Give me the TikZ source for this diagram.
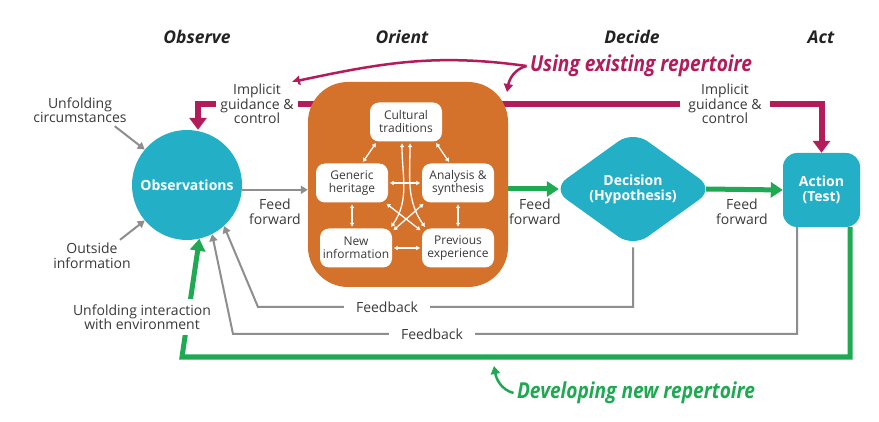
\documentclass[tikz,border=0pt]{standalone}
\usepackage{fontspec}
\setmainfont{Open Sans}
\newfontfamily\condfont[FakeStretch=0.87]{Open Sans}
\usetikzlibrary{arrows.meta,shapes.geometric,backgrounds}

\definecolor{stageteal}{HTML}{23B0C6}
\definecolor{orientorange}{HTML}{D4712A}
\definecolor{guidered}{HTML}{B31B5B}
\definecolor{fwdgreen}{HTML}{1EA952}
\definecolor{feedgray}{HTML}{8E8E8E}
\definecolor{txtgray}{HTML}{3A3A3A}
\definecolor{headgray}{HTML}{222222}

\begin{document}
\begin{tikzpicture}[x=1pt,y=-1pt,
    every node/.style={font=\fontsize{14}{14.5}\selectfont,text=txtgray,align=center},
    heading/.style={font=\fontsize{17.5}{19}\selectfont\bfseries\itshape,text=headgray},
    repertoire/.style={font=\condfont\fontsize{22}{24}\selectfont\bfseries\itshape},
    stage/.style={fill=stageteal,text=white,font=\fontsize{14}{15}\selectfont\bfseries,inner sep=0pt},
    factor/.style={fill=white,rounded corners=9pt,minimum width=72pt,minimum height=39pt,inner sep=1pt,
        font=\fontsize{12}{13}\selectfont},
    gap/.style={fill=white,inner ysep=2pt},
    guide/.style={draw=guidered,line width=6pt,-{Triangle[width=17pt,length=12pt]}},
    guidethin/.style={draw=guidered,line width=2.5pt,-{Triangle[width=9pt,length=8pt]}},
    forward/.style={draw=fwdgreen,line width=5pt,-{Triangle[width=15pt,length=12pt]}},
    forwardthin/.style={draw=fwdgreen,line width=2.5pt,-{Triangle[width=9pt,length=8pt]}},
    feed/.style={draw=feedgray,line width=2pt,-{Triangle[width=8pt,length=7pt]}},
    link/.style={draw=white,line width=1.3pt,{Latex[length=4pt,width=5pt]}-{Latex[length=4pt,width=5pt]},
        shorten <=1.5pt,shorten >=1.5pt}
]
\useasboundingbox (0,0) rectangle (879,422);

% column headings
\node[heading] (hobs) at (197,37) {Observe};
\node[heading] (hori) at (402,37) {Orient};
\node[heading] (hdec) at (632,37) {Decide};
\node[heading] (hact) at (821,37) {Act};

% the four stages
\node[stage,circle,minimum size=110pt] (obs) at (187,185) {Observations};
\node[fill=orientorange,rounded corners=40pt,minimum width=200pt,minimum height=205pt] (orient) at (408,184.5) {};
\node[stage,diamond,rounded corners=18pt,minimum width=162pt,minimum height=112pt] (dec) at (633,189) {Decision\\(Hypothesis)};
\node[stage,rounded corners=14pt,minimum width=77pt,minimum height=74pt] (act) at (821.5,190) {Action\\(Test)};

% inside orient
\node[factor] (cult) at (406,122) {Cultural\\traditions};
\node[factor] (gen) at (352,183) {Generic\\heritage};
\node[factor] (ana) at (458,183) {Analysis \&\\synthesis};
\node[factor] (newi) at (356,248) {New\\information};
\node[factor] (prev) at (458,248) {Previous\\experience};

\draw[link] ([xshift=7pt]cult.south west) -- ([xshift=10pt]gen.north);
\draw[link] ([xshift=-7pt]cult.south east) -- ([xshift=-8pt]ana.north);
\draw[link] (gen.east) -- (ana.west);
\draw[link] (gen.south) -- (gen.south |- newi.north);
\draw[link] (ana.south) -- (prev.north);
\draw[link] (newi.east) -- (prev.west);
\draw[link] ([xshift=-3pt]gen.south east) -- ([yshift=-3pt]prev.north west);
\draw[link] ([xshift=3pt]ana.south west) -- ([yshift=-3pt]newi.north east);
\draw[link] ([xshift=-4pt]cult.south) to[out=-90,in=55] ([xshift=-2pt]newi.north east);
\draw[link] ([xshift=4pt]cult.south) to[out=-90,in=125] ([xshift=4pt]prev.north west);

% labels
\node (circ) at (80,110) {Unfolding\\circumstances};
\node (outside) at (92,256) {Outside\\information};
\node[gap,inner xsep=4pt] (impl1) at (257,104) {Implicit\\guidance \&\\control};
\node[gap,inner xsep=8pt] (impl2) at (725,104) {Implicit\\guidance \&\\control};
\node (ff1) at (275,212) {Feed\\forward};
\node (ff2) at (535,212) {Feed\\forward};
\node (ff3) at (742,212) {Feed\\forward};
\node[gap,inner xsep=12pt] (fb1) at (387,307) {Feedback};
\node[gap,inner xsep=12pt] (fb2) at (432,334) {Feedback};
\node[fill=white,inner xsep=3pt,inner ysep=5pt] (unfold) at (142,317) {Unfolding interaction\\with environment};
\node[repertoire,text=guidered] (using) at (641,66) {Using existing repertoire};
\node[repertoire,text=fwdgreen] (dev) at (636,393) {Developing new repertoire};
\coordinate (usel) at (292,82);
\coordinate (user) at (507,92);
\coordinate (devtip) at (494,366);

\begin{pgfonlayer}{background}
\fill[white] (0,0) rectangle (879,422);
% implicit guidance & control
\draw[guide] (orient.center |- impl1) -| ([xshift=11pt]obs.north);
\draw[guide] (orient.center |- impl2) -| (act.north);
\draw[guidethin] (using.west) to[out=172,in=12] (usel);
\draw[guidethin] (using.west) to[out=195,in=80] (user);
% feed forward
\draw[feed] (obs.-5) -- (orient.west |- obs.-5);
\draw[forward] (orient.east |- dec.west) -- ([xshift=7pt]dec.west);
\draw[forward] ([xshift=-8pt]dec.east) -- (act.west);
% feedback
\draw[feed] (dec.south) |- (258,307) -- (obs.-48);
\draw[feed] ([xshift=-24.5pt]act.south) |- (233,334) -- (obs.-63);
\draw[forward] ([xshift=-10pt]act.south east) |- (182,357) -- (obs.-77);
\draw[forwardthin] (dev.west) to[out=165,in=-80] (devtip);
% outside inputs
\draw[feed] (circ.-25) -- (obs.140);
\draw[feed] (outside.30) -- (obs.220);
\end{pgfonlayer}
\end{tikzpicture}
\end{document}
